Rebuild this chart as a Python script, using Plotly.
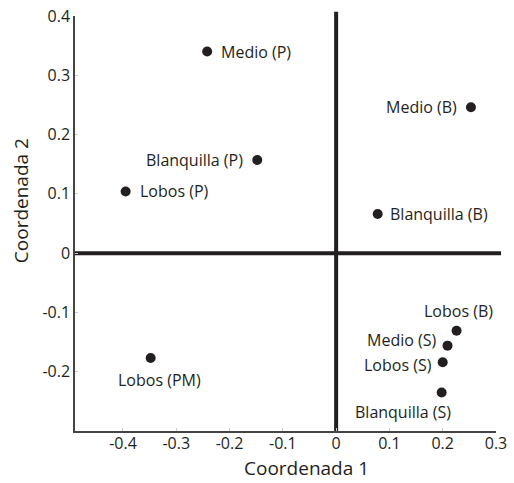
import plotly.graph_objects as go

labels = ["Medio (P)", "Blanquilla (P)", "Lobos (P)", "Lobos (PM)", "Medio (B)",
          "Blanquilla (B)", "Lobos (B)", "Medio (S)", "Lobos (S)", "Blanquilla (S)"]
coord1 = [-0.242, -0.148, -0.395, -0.348, 0.253, 0.078, 0.226, 0.209, 0.200, 0.198]
coord2 = [0.340, 0.157, 0.104, -0.177, 0.246, 0.066, -0.131, -0.156, -0.184, -0.235]

x_ticks = [-0.4, -0.3, -0.2, -0.1, 0, 0.1, 0.2, 0.3]
x_ticktext = ["-0.4", "-0.3", "-0.2", "-0.1", "0", "0.1", "0.2", "0.3"]
y_ticks = [-0.2, -0.1, 0, 0.1, 0.2, 0.3, 0.4]
y_ticktext = ["-0.2", "-0.1", "0", "0.1", "0.2", "0.3", "0.4"]

# label placement (style): xanchor, xshift, yshift in pixels
label_style = [("left", 12, 0), ("right", -12, 0), ("left", 12, 0), ("center", 9, -22),
               ("right", -12, 0), ("left", 10, 0), ("center", 2, 20), ("right", -10, 6),
               ("right", -9, -3), ("center", -39, -20)]

ink = "#231f20"
font = "Open Sans"

fig = go.Figure()
fig.add_trace(go.Scatter(x=coord1, y=coord2, mode="markers",
                         marker=dict(size=10, color=ink), showlegend=False, hoverinfo="text",
                         text=labels))

for lab, xv, yv, (anc, xs, ys) in zip(labels, coord1, coord2, label_style):
    fig.add_annotation(x=xv, y=yv, text=lab, showarrow=False, xanchor=anc, yanchor="middle",
                       xshift=xs, yshift=ys, font=dict(family=font, size=16, color=ink))

# thick reference lines
fig.add_shape(type="line", xref="paper", yref="y", x0=0, x1=1.012, y0=0, y1=0,
              line=dict(color=ink, width=4), layer="below")
fig.add_shape(type="line", xref="x", yref="paper", x0=0, x1=0, y0=0, y1=1.01,
              line=dict(color=ink, width=4), layer="below")

fig.add_annotation(xref="paper", yref="paper", x=0.551, y=-0.088, text="Coordenada 1",
                   showarrow=False, xanchor="center", yanchor="middle",
                   font=dict(family=font, size=19, color=ink))
fig.add_annotation(xref="paper", yref="paper", x=-0.128, y=0.554, text="Coordenada 2",
                   showarrow=False, xanchor="center", yanchor="middle", textangle=-90,
                   font=dict(family=font, size=19, color=ink))

fig.update_layout(
    width=514, height=483,
    margin=dict(l=75, r=18, t=16, b=52, autoexpand=False),
    paper_bgcolor="white", plot_bgcolor="white",
    font=dict(family=font, color=ink),
)
fig.update_xaxes(range=[-0.49, 0.3], tickvals=x_ticks, ticktext=x_ticktext, automargin=False,
                 showgrid=False, zeroline=False, showline=True, linecolor="#444",
                 linewidth=1.5, ticks="inside", ticklen=3, tickcolor="#ccc",
                 ticklabelstandoff=-3,
                 tickfont=dict(family=font, size=16, color=ink))
fig.update_yaxes(range=[-0.3, 0.4], tickvals=y_ticks, ticktext=y_ticktext, automargin=False,
                 showgrid=False, zeroline=False, showline=True, linecolor="#444",
                 linewidth=1.5, ticks="inside", ticklen=3, tickcolor="#ccc",
                 tickfont=dict(family=font, size=16, color=ink))

fig.write_html("out.html", config={"displayModeBar": False},
               post_script="document.body.style.margin='0';document.body.style.overflow='hidden';")
